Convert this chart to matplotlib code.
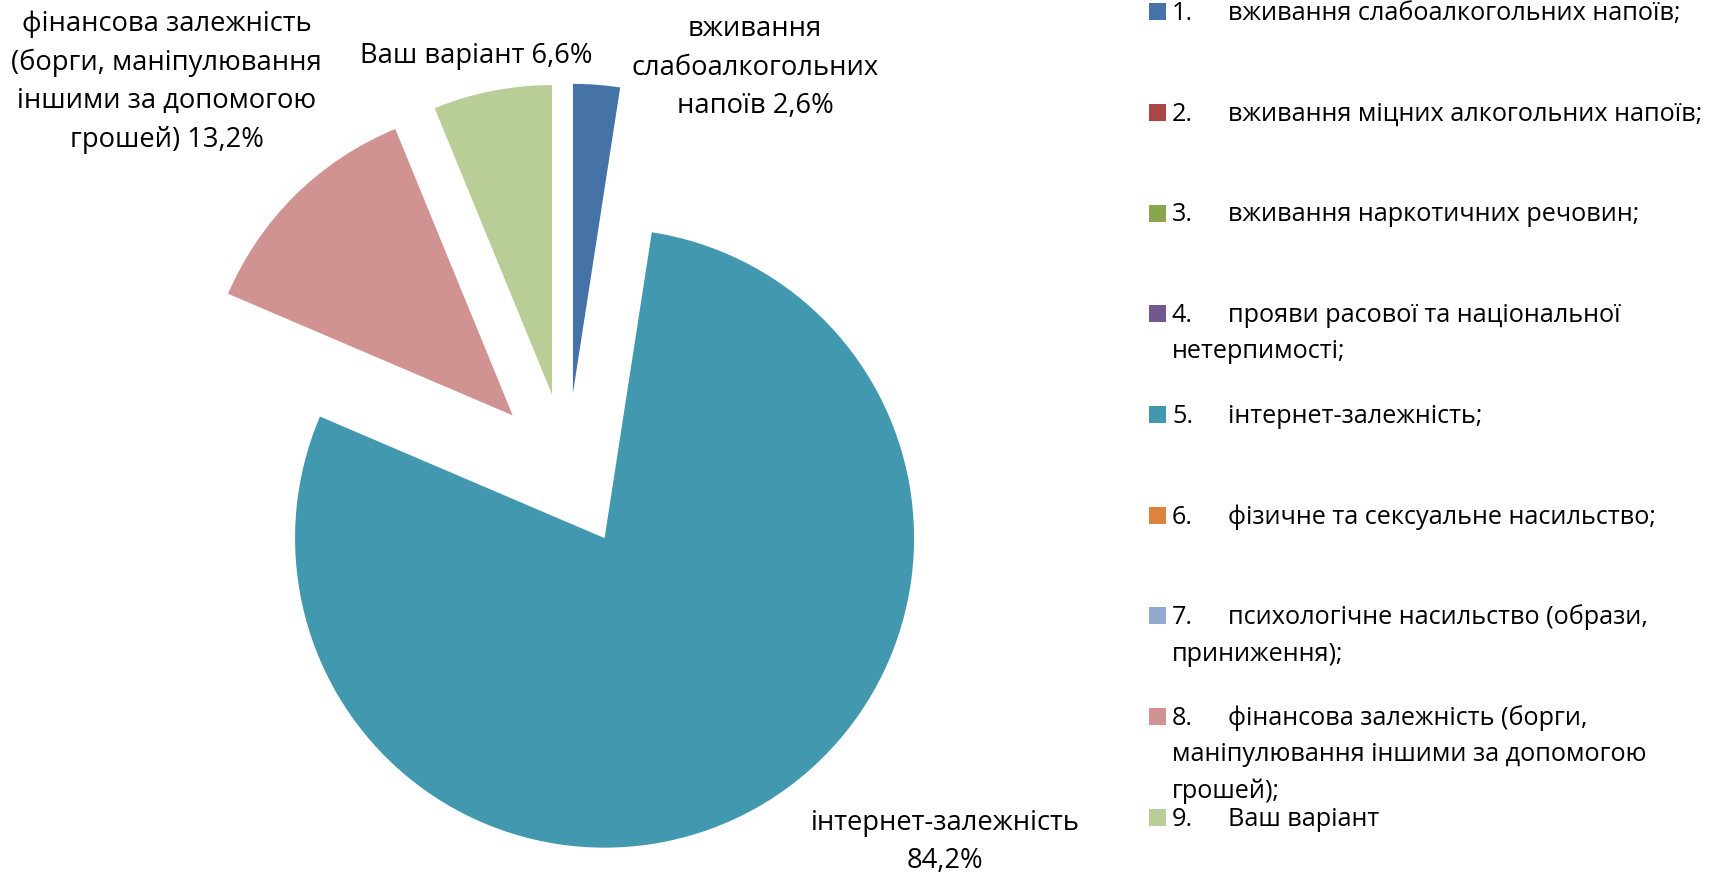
import matplotlib
matplotlib.use("Agg")
import matplotlib.pyplot as plt
from matplotlib.patches import Rectangle

# ---------------- data ----------------
categories = [
    "вживання слабоалкогольних напоїв;",
    "вживання міцних алкогольних напоїв;",
    "вживання наркотичних речовин;",
    "прояви расової та національної нетерпимості;",
    "інтернет-залежність;",
    "фізичне та сексуальне насильство;",
    "психологічне насильство (образи, приниження);",
    "фінансова залежність (борги, маніпулювання іншими за допомогою грошей);",
    "Ваш варіант",
]
values = [2.6, 0.0, 0.0, 0.0, 84.2, 0.0, 0.0, 13.2, 6.6]
colors = ["#4572A7", "#AA4643", "#89A54E", "#71588F", "#4198AF",
          "#DB843D", "#93A9CF", "#D19392", "#B9CD96"]

# legend wrapping (as in the reference)
legend_lines = [
    ["вживання слабоалкогольних напоїв;"],
    ["вживання міцних алкогольних напоїв;"],
    ["вживання наркотичних речовин;"],
    ["прояви расової та національної", "нетерпимості;"],
    ["інтернет-залежність;"],
    ["фізичне та сексуальне насильство;"],
    ["психологічне насильство (образи,", "приниження);"],
    ["фінансова залежність (борги,", "маніпулювання іншими за допомогою", "грошей);"],
    ["Ваш варіант"],
]
# data-label wrapping (name part; value appended to last line)
label_lines = {
    0: ["вживання", "слабоалкогольних", "напоїв"],
    4: ["інтернет-залежність", ""],
    7: ["фінансова залежність", "(борги, маніпулювання", "іншими за допомогою", "грошей)"],
    8: ["Ваш варіант"],
}

# ---------------- layout ----------------
W, H = 1715, 874
FONT = "Open Sans"
fig = plt.figure(figsize=(W / 100, H / 100), dpi=100)
ax = fig.add_axes([0, 0, 1, 1])

cx, cy, R = 567, H - 470.5, 309.5
EXPLODE = 0.25  # fraction of radius
idx = [i for i, v in enumerate(values) if v > 0]
ax.pie([values[i] for i in idx], colors=[colors[i] for i in idx],
       startangle=90, counterclock=False, explode=[EXPLODE * R] * len(idx),
       radius=R, center=(cx, cy), wedgeprops=dict(linewidth=0))
ax.set_xlim(0, W)
ax.set_ylim(0, H)
ax.set_aspect("equal")
ax.axis("off")


def fmt(v):
    return f"{v:.1f}".replace(".", ",") + "%"


# data labels: (center x, first baseline y from top)
label_pos = {0: (755, 36.3), 4: (945, 830), 7: (166.5, 31.2), 8: (476, 63)}
LS = 38.5
for i, (x, y0) in label_pos.items():
    lines = list(label_lines[i])
    last = lines[-1]
    lines[-1] = (last + " " + fmt(values[i])) if last else fmt(values[i])
    for k, ln in enumerate(lines):
        ax.text(x, H - (y0 + k * LS), ln, ha="center", va="baseline",
                fontsize=19.7, family=FONT, color="black")

# legend
sq_x, sq = 1149, 17
y_first, step = 11.7, 100.7
num_x, txt_x = 1172, 1228
LLS = 36.4
for i, lines in enumerate(legend_lines):
    yc = y_first + i * step
    ax.add_patch(Rectangle((sq_x, H - (yc + sq / 2)), sq, sq,
                           facecolor=colors[i], edgecolor="none"))
    base = yc + 8.3
    ax.text(num_x, H - base, f"{i + 1}.", ha="left", va="baseline",
            fontsize=18.2, family=FONT)
    ax.text(txt_x, H - base, lines[0], ha="left", va="baseline",
            fontsize=18.2, family=FONT)
    for k, ln in enumerate(lines[1:], start=1):
        ax.text(num_x, H - (base + k * LLS), ln, ha="left", va="baseline",
                fontsize=18.2, family=FONT)

fig.savefig("out.png", dpi=100)
